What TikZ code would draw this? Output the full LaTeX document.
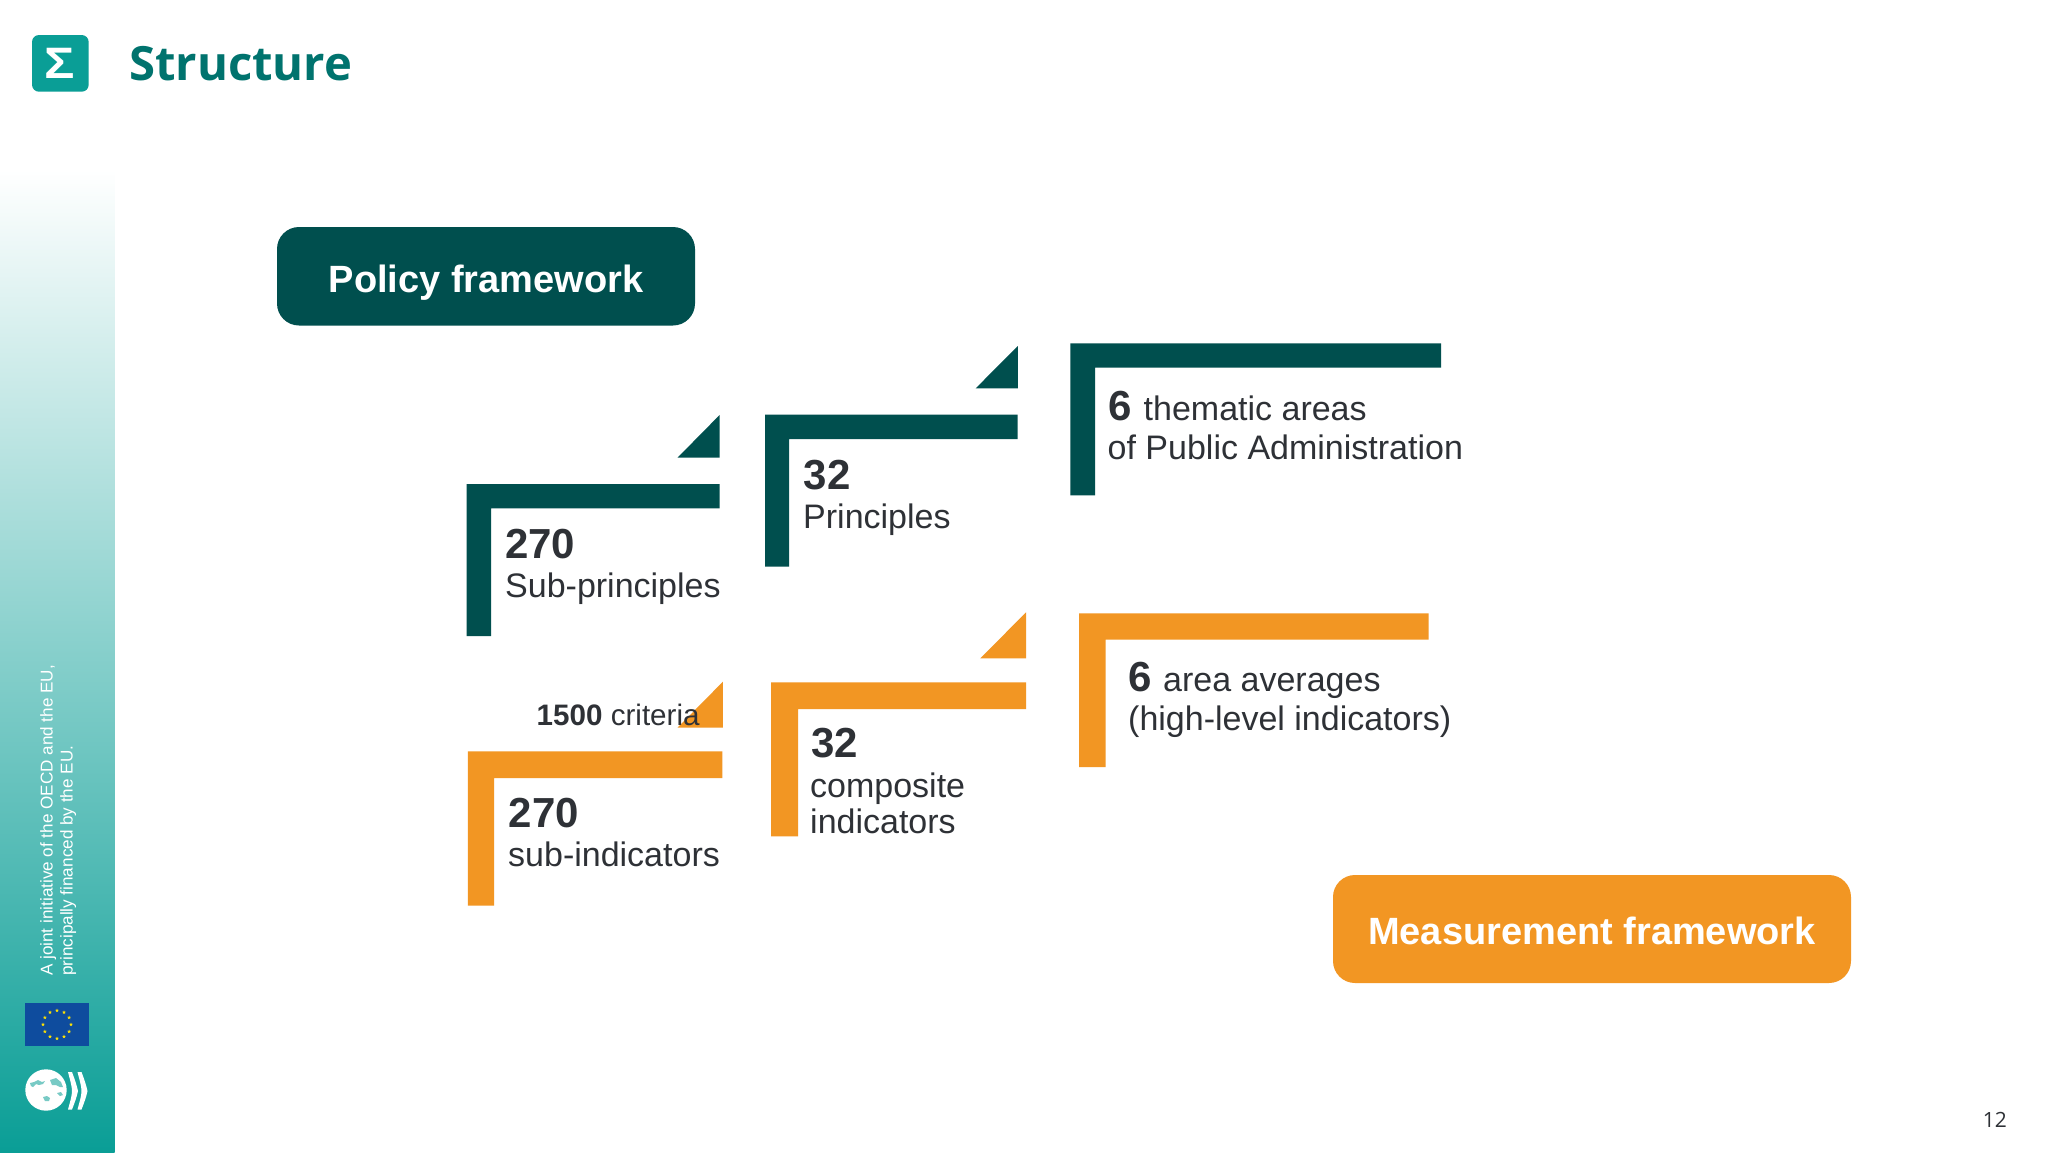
\documentclass[tikz,border=0pt]{standalone}
\usepackage{fontspec}
\setmainfont{Liberation Sans}
\newfontfamily\titlefont{Open Sans}
\usetikzlibrary{shapes.geometric}
\definecolor{darkteal}{HTML}{004F4E}
\definecolor{orangec}{HTML}{F29623}
\definecolor{inkc}{HTML}{2E3136}
\definecolor{tealc}{HTML}{0A9E96}
\definecolor{titlec}{HTML}{00736E}
\definecolor{flagblue}{HTML}{0E4C9E}
\tikzset{
  x=1pt,y=-1pt,
  lab/.style={anchor=base west,inner sep=0pt,text=inkc,font=\fontsize{34}{34}\selectfont},
  num/.style={anchor=base west,inner sep=0pt,text=inkc,font=\fontsize{42}{42}\selectfont\bfseries},
  crit/.style={anchor=base west,inner sep=0pt,text=inkc,font=\fontsize{29.6}{30}\selectfont},
  banner/.style={rounded corners=22pt},
  bannertext/.style={anchor=base,inner sep=0pt,text=white,font=\fontsize{38}{38}\selectfont\bfseries},
  side/.style={anchor=base west,inner sep=0pt,text=white,rotate=90,font=\fontsize{17.1}{18}\selectfont},
  land/.style={fill=tealc!55!white},
}
\newcommand{\brk}[7]{\fill[#1] (#2,#3) -- (#4,#3) -- (#4,#6) -- (#5,#6) -- (#5,#7) -- (#2,#7) -- cycle;}
\newcommand{\tri}[5]{\fill[#1] (#2,#5) -- (#3,#4) -- (#3,#5) -- cycle;}
\begin{document}
\begin{tikzpicture}
\useasboundingbox (0,0) rectangle (2048,1152);
\fill[white] (0,0) rectangle (2048,1152);
% sidebar
\shade[top color=white,middle color=tealc!52!white,bottom color=tealc] (0,170) rectangle (114.5,1152);
% header
\fill[tealc,rounded corners=7pt] (32,35) rectangle (88.7,91.7);
\node[anchor=center,inner sep=0pt,text=white,font=\fontsize{44}{44}\selectfont\bfseries,xscale=1.15] (sigma) at (60,63) {Σ};
\node[anchor=base west,inner sep=0pt,text=titlec,font=\titlefont\fontsize{47.2}{48}\selectfont\bfseries] (title) at (129,80.5) {Structure};
% banners
\fill[darkteal,banner] (277,227) rectangle (695,325.5);
\node[bannertext] (policy) at (486,292) {Policy framework};
\fill[orangec,banner] (1333,875) rectangle (1851,983);
\node[bannertext] (measure) at (1592,944.5) {Measurement framework};
% dark brackets
\brk{darkteal}{466.5}{484}{719.6}{491}{508.3}{636}
\tri{darkteal}{677.5}{719.6}{415}{457.7}
\brk{darkteal}{765}{414.7}{1017.6}{789}{439}{566.7}
\tri{darkteal}{975.7}{1017.9}{346}{388.3}
\brk{darkteal}{1070.4}{343.3}{1441}{1095}{367.7}{495.3}
% orange brackets
\brk{orangec}{467.8}{751.3}{722.4}{494}{778}{905.7}
\tri{orangec}{677.5}{722.9}{681.7}{727.7}
\brk{orangec}{771}{682.3}{1026}{798}{709}{836.3}
\tri{orangec}{980.4}{1026}{612.3}{658.3}
\brk{orangec}{1079}{613.3}{1428.6}{1105.7}{639.7}{767}
% labels, dark row
\node[num] (a1) at (505,558) {270};
\node[lab] (a2) at (505,597) {Sub-principles};
\node[num] (b1) at (803.5,489) {32};
\node[lab] (b2) at (803,528.5) {Principles};
\node[num] (c1) at (1108,420) {6};
\node[lab] (c2) at (1143.5,420) {thematic areas};
\node[lab] (c3) at (1107.5,459) {of Public Administration};
% labels, orange row
\node[crit] (d0) at (536.5,725) {\textbf{1500} criteria};
\node[num] (d1) at (508.5,827) {270};
\node[lab] (d2) at (508,866) {sub-indicators};
\node[num] (e1) at (811,757.7) {32};
\node[lab] (e2) at (810,797) {composite};
\node[lab] (e3) at (810,833.5) {indicators};
\node[num] (f1) at (1128.5,691) {6};
\node[lab] (f2) at (1163,691.5) {area averages};
\node[lab] (f3) at (1128,730) {(high-level indicators)};
% sidebar text
\node[side] (s1) at (52.5,976) {A joint initiative of the OECD and the EU,};
\node[side] (s2) at (72.5,976) {principally financed by the EU.};
% EU flag
\fill[flagblue] (25,1003) rectangle (89,1046);
\foreach \a in {0,30,...,330}
  \node[star,star points=5,star point ratio=2.4,fill=yellow!85!orange,inner sep=0pt,minimum size=4pt] at ({57+14*cos(\a)},{1024.5+14*sin(\a)}) {};
% OECD mark
\fill[white] (46,1090) circle (20.7);
\fill[land] (30,1083) -- (34,1082) -- (38,1080) -- (42,1082) -- (45,1081) -- (43,1084) -- (39,1085) -- (36,1084) -- (33,1087) -- (31,1086) -- cycle;
\fill[land] (50,1080) -- (56,1078) -- (61,1082) -- (63,1087) -- (60,1087) -- (56,1085) -- (52,1085) -- cycle;
\fill[land] (43,1097) -- (47,1096) -- (50,1098) -- (49,1101) -- (45,1101) -- cycle;
\fill[land] (57,1093) -- (61,1092) -- (63,1095) -- (60,1096) -- cycle;
\fill[white] (68,1072) -- (72,1072) .. controls (75,1080) and (77,1086) .. (78,1091) .. controls (77,1096) and (75,1102) .. (72,1109.5) -- (68,1109.5) .. controls (70,1102) and (72,1096) .. (72,1091) .. controls (72,1086) and (70,1080) .. (68,1072) -- cycle;
\fill[white] (77.5,1072) -- (81.5,1072) .. controls (84.5,1080) and (86.5,1086) .. (87.5,1091) .. controls (86.5,1096) and (84.5,1102) .. (81.5,1109.5) -- (77.5,1109.5) .. controls (79.5,1102) and (81.5,1096) .. (81.5,1091) .. controls (81.5,1086) and (79.5,1080) .. (77.5,1072) -- cycle;
% page number
\node[anchor=base east,inner sep=0pt,text=inkc,font=\titlefont\fontsize{21}{21}\selectfont] (page) at (2007,1127) {12};
\end{tikzpicture}
\end{document}
